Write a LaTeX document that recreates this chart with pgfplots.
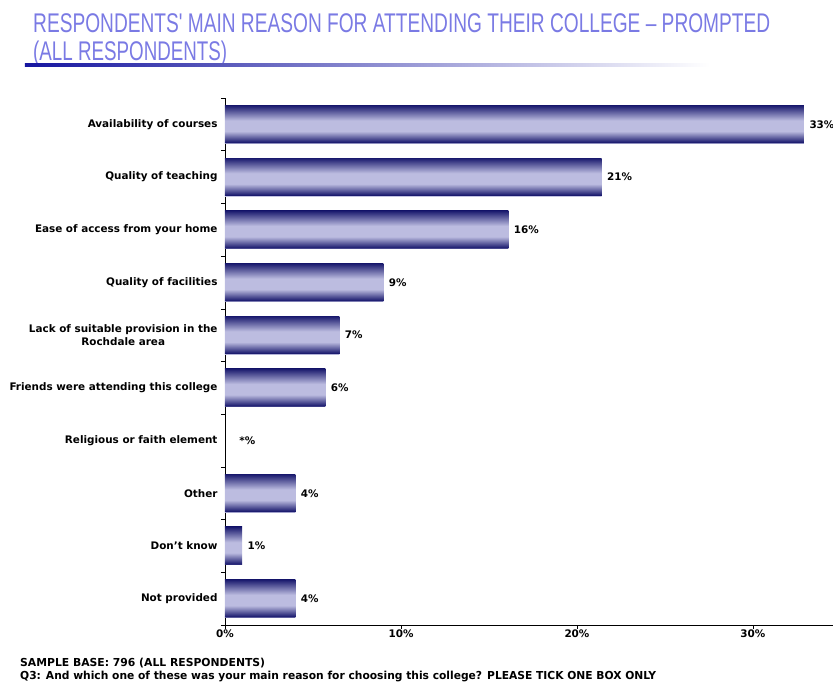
\documentclass[border=0pt]{standalone}
\usepackage{pgfplots}
\pgfplotsset{compat=1.18}
\usepackage{fontspec}
\setmainfont{DejaVu Sans}
\newfontfamily\titlefont{Liberation Sans}
\definecolor{navy}{RGB}{26,26,110}
\definecolor{lav}{RGB}{188,188,224}
\definecolor{titleblue}{RGB}{122,122,228}
\definecolor{ulblue}{RGB}{22,22,160}
\pgfdeclareverticalshading{barshade}{100bp}{%
  color(0bp)=(lav!80!white); color(25bp)=(lav!80!white); color(26.3bp)=(navy);
  color(41bp)=(lav); color(55bp)=(lav);
  color(75bp)=(navy); color(100bp)=(navy)}
\newcommand\lblfont{\bfseries\fontsize{10.4}{12.5}\selectfont}
\pgfplotsset{
  mybar/.style={xbar, bar shift=0pt, bar width=0.72, draw=none,
    shading=barshade,
    point meta=explicit symbolic, nodes near coords,
    nodes near coords style={anchor=west, text=black, font=\lblfont, xshift=2pt}},
}

\begin{document}
\begin{tikzpicture}
\begin{axis}[
  scale only axis,
  width=608pt, height=527pt,
  xmin=0, xmax=34.55, ymin=-0.5, ymax=9.5,
  axis lines*=left,
  axis line style={black, line width=0.8pt},
  tick align=outside,
  major tick length=0pt, minor tick length=4pt,
  tick style={black, line width=0.6pt},
  xtick={0,10,20,30}, xticklabels={0\%,10\%,20\%,30\%},
  minor xtick={0,10,20,30},
  ytick={0,...,9},
  yticklabels={Not provided, Don\char"27 t know, Other, Religious or faith element, Friends were attending this college, {Lack of suitable provision in the\\Rochdale area}, Quality of facilities, Ease of access from your home, Quality of teaching, Availability of courses},
  minor ytick={-0.5,0.5,...,9.5},
  yticklabel style={align=center, font=\lblfont, xshift=-4pt},
  xticklabel style={font=\lblfont, yshift=-1pt},
  clip=false,
]
\addplot[mybar] coordinates {(32.9,9) [33\%]};
\addplot[mybar] coordinates {(21.4,8) [21\%]};
\addplot[mybar] coordinates {(16.1,7) [16\%]};
\addplot[mybar] coordinates {(9.0,6) [9\%]};
\addplot[mybar] coordinates {(6.5,5) [7\%]};
\addplot[mybar] coordinates {(5.7,4) [6\%]};
\addplot[xbar, bar shift=0pt, bar width=0.72, draw=none, fill=none,
  point meta=explicit symbolic, nodes near coords,
  nodes near coords style={anchor=west, text=black, font=\lblfont, xshift=2pt}]
  coordinates {(0.5,3) [*\%]};
\addplot[mybar] coordinates {(4.0,2) [4\%]};
\addplot[mybar] coordinates {(0.97,1) [1\%]};
\addplot[mybar] coordinates {(4.0,0) [4\%]};
\coordinate (O) at (rel axis cs:0,0);
\end{axis}
\pgfresetboundingbox
\begin{scope}[shift={(O)}, x=1pt, y=1pt]
\path[use as bounding box] (-225,-56) rectangle ++(833,681);
% title
\node[anchor=base west, inner sep=0, text=titleblue] at (-192,592)
  {\resizebox{737pt}{\height}{\titlefont\fontsize{27}{27}\selectfont RESPONDENTS\char"27\ MAIN REASON FOR ATTENDING THEIR COLLEGE – PROMPTED}};
\node[anchor=base west, inner sep=0, text=titleblue] at (-192,564)
  {\resizebox{194pt}{\height}{\titlefont\fontsize{27}{27}\selectfont (ALL RESPONDENTS)}};
\shade[left color=ulblue, right color=white] (-200,558) rectangle (485,561.5);
% footnotes
\node[anchor=base west, inner sep=0] at (-205,-41)
  {\resizebox{245pt}{\height}{\bfseries\fontsize{11}{12}\selectfont SAMPLE BASE: 796 (ALL RESPONDENTS)}};
\node[anchor=base west, inner sep=0] at (-205,-54)
  {\resizebox{636pt}{\height}{\bfseries\fontsize{11}{12}\selectfont Q3: And which one of these was your main reason for choosing this college? PLEASE TICK ONE BOX ONLY}};
\end{scope}
\end{tikzpicture}
\end{document}
